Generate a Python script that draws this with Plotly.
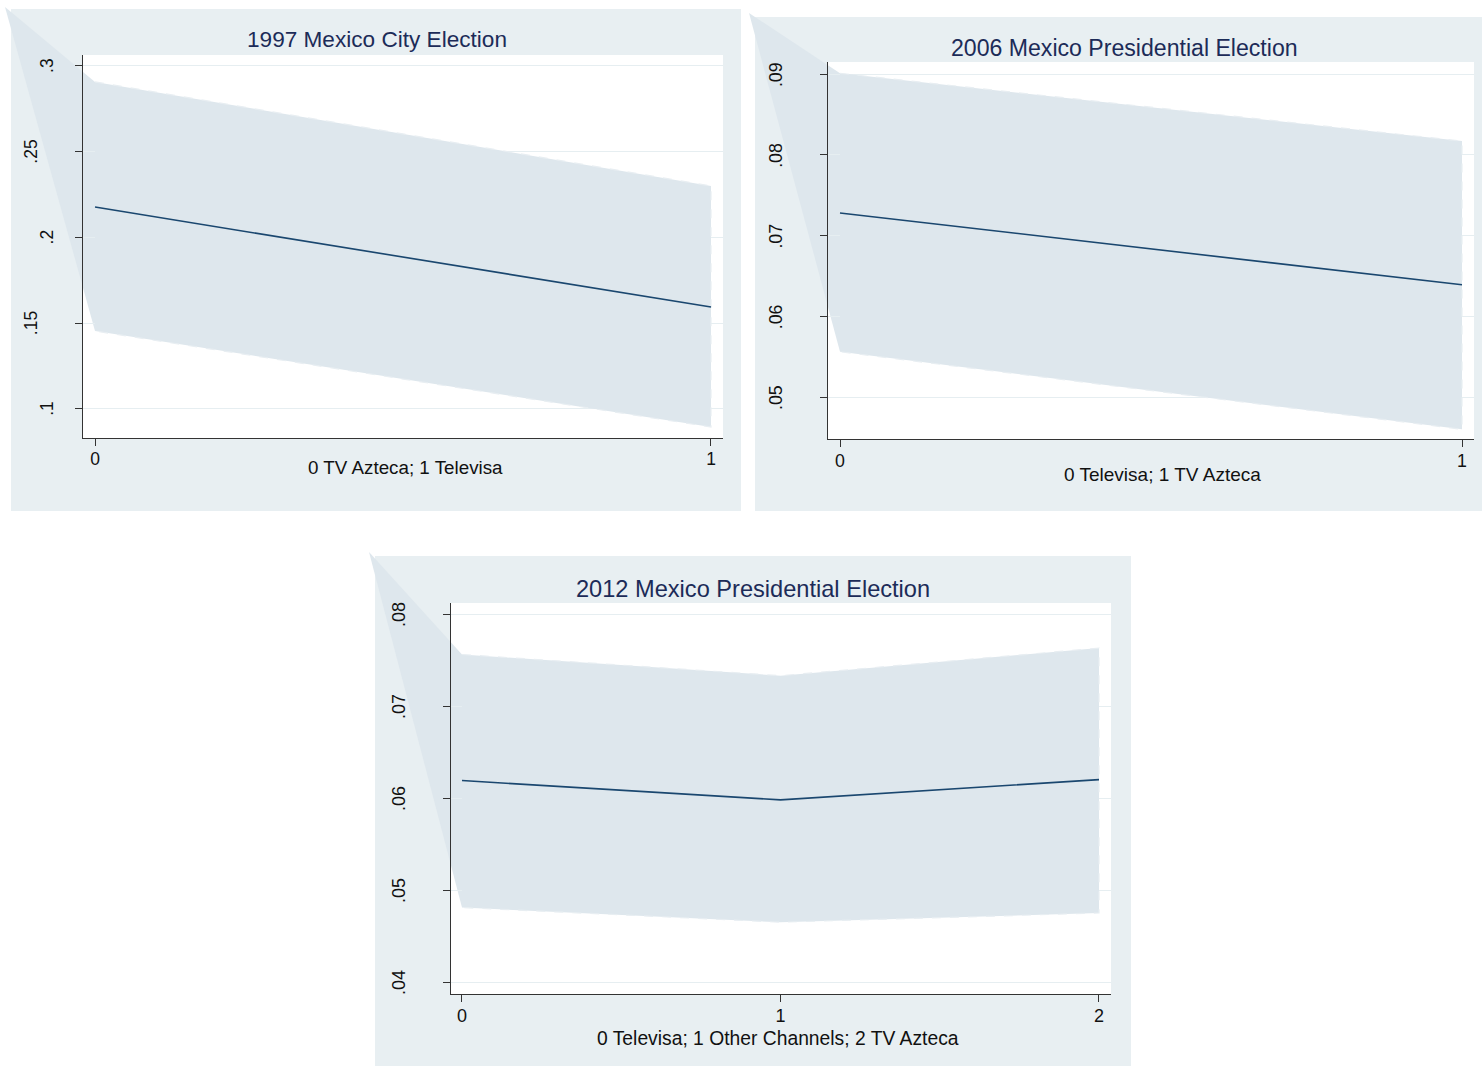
import plotly.graph_objects as go

# ---------------- data ----------------
x_1997 = [0, 1]
fit_1997 = [0.2177, 0.1594]
upper_1997 = [0.2907, 0.2300]
lower_1997 = [0.1454, 0.0894]
yticks_1997 = [0.10, 0.15, 0.20, 0.25, 0.30]
ylabels_1997 = [".1", ".15", ".2", ".25", ".3"]
xlabels_1997 = ["0", "1"]

x_2006 = [0, 1]
fit_2006 = [0.0728, 0.0639]
upper_2006 = [0.0901, 0.0817]
lower_2006 = [0.0556, 0.0460]
yticks_2006 = [0.05, 0.06, 0.07, 0.08, 0.09]
ylabels_2006 = [".05", ".06", ".07", ".08", ".09"]
xlabels_2006 = ["0", "1"]

x_2012 = [0, 1, 2]
fit_2012 = [0.0620, 0.0599, 0.0621]
upper_2012 = [0.0757, 0.0734, 0.0764]
lower_2012 = [0.0482, 0.0466, 0.0476]
yticks_2012 = [0.04, 0.05, 0.06, 0.07, 0.08]
ylabels_2012 = [".04", ".05", ".06", ".07", ".08"]
xlabels_2012 = ["0", "1", "2"]

titles = ["1997 Mexico City Election",
          "2006 Mexico Presidential Election",
          "2012 Mexico Presidential Election"]
xtitles = ["0 TV Azteca; 1 Televisa",
           "0 Televisa; 1 TV Azteca",
           "0 Televisa; 1 Other Channels; 2 TV Azteca"]

# ---------------- page geometry (pixels) ----------------
W, H = 1482, 1066
REGION_BG = "#e8eff2"
BAND = "#dee7ed"
BAND_EDGE = "#e8eef2"
LINE = "#1a476f"
TITLE_C = "#1c2b58"
AXIS_C = "#333333"
GRID_C = "#e6eef1"
FONT = "Liberation Sans, Arial, sans-serif"

panels = [
    dict(x=x_1997, fit=fit_1997, up=upper_1997, lo=lower_1997,
         yt=yticks_1997, yl=ylabels_1997, xl=xlabels_1997,
         region=(11, 9, 741, 511), plot=(83, 55, 723, 438),
         xr=(-0.0195, 1.0195), yr=(0.0830, 0.3064),
         tip=(5, 7), title_xy=(377, 40), xtitle_xy=(406, 468),
         fs_title=22.6, fs_xtitle=18.8, fs_tick=17.5),
    dict(x=x_2006, fit=fit_2006, up=upper_2006, lo=lower_2006,
         yt=yticks_2006, yl=ylabels_2006, xl=xlabels_2006,
         region=(755, 17, 1482, 511), plot=(828, 62, 1474, 439),
         xr=(-0.0193, 1.0193), yr=(0.0448, 0.0915),
         tip=(749, 13), title_xy=(1124, 48), xtitle_xy=(1162, 474),
         fs_title=23.1, fs_xtitle=19.0, fs_tick=17.8),
    dict(x=x_2012, fit=fit_2012, up=upper_2012, lo=lower_2012,
         yt=yticks_2012, yl=ylabels_2012, xl=xlabels_2012,
         region=(375, 556, 1131, 1066), plot=(451, 603, 1111, 994),
         xr=(-0.0345, 2.0377), yr=(0.0388, 0.0813),
         tip=(369, 552), title_xy=(753, 589), xtitle_xy=(778, 1038),
         fs_title=23.6, fs_xtitle=19.3, fs_tick=18.0),
]


def px(xp):
    return xp / W


def py(yp):
    return 1 - yp / H


def data_to_paper(p, xv, yv):
    x0, y0, x1, y1 = p["plot"]
    fx = (xv - p["xr"][0]) / (p["xr"][1] - p["xr"][0])
    fy = (yv - p["yr"][0]) / (p["yr"][1] - p["yr"][0])
    return px(x0 + fx * (x1 - x0)), py(y1 - fy * (y1 - y0))


fig = go.Figure()
shapes = []
annotations = []

for i, p in enumerate(panels):
    n = "" if i == 0 else str(i + 1)
    xa, ya = "x" + n, "y" + n
    x0, y0, x1, y1 = p["plot"]

    # grey region behind each graph and white plot area
    rx0, ry0, rx1, ry1 = p["region"]
    shapes.append(dict(type="rect", xref="paper", yref="paper", layer="below",
                       x0=px(rx0), x1=px(rx1), y0=py(ry1), y1=py(ry0),
                       fillcolor=REGION_BG, line=dict(width=0)))
    shapes.append(dict(type="rect", xref="paper", yref="paper", layer="below",
                       x0=px(x0), x1=px(x1), y0=py(y1), y1=py(y0),
                       fillcolor="white", line=dict(width=0)))

    # shaded wedge from the region corner to the left edge of the band
    ux, uy = data_to_paper(p, p["x"][0], p["up"][0])
    lx, ly = data_to_paper(p, p["x"][0], p["lo"][0])
    tx, ty = px(p["tip"][0]), py(p["tip"][1])
    shapes.append(dict(type="path", xref="paper", yref="paper", layer="below",
                       path=f"M {tx} {ty} L {ux} {uy} L {lx} {ly} Z",
                       fillcolor=BAND, line=dict(width=0)))

    # confidence band
    fig.add_trace(go.Scatter(
        x=p["x"] + p["x"][::-1], y=p["up"] + p["lo"][::-1],
        fill="toself", fillcolor=BAND, mode="lines",
        line=dict(color=BAND_EDGE, width=1.2, dash="dash"),
        hoverinfo="skip", showlegend=False, xaxis=xa, yaxis=ya))
    # fitted line
    fig.add_trace(go.Scatter(
        x=p["x"], y=p["fit"], mode="lines",
        line=dict(color=LINE, width=1.6),
        showlegend=False, xaxis=xa, yaxis=ya))

    fig.layout["xaxis" + n] = dict(
        domain=[px(x0), px(x1)], anchor=ya, range=list(p["xr"]),
        tickmode="array", tickvals=p["x"], ticktext=p["xl"],
        ticks="outside", ticklen=7, tickcolor=AXIS_C, tickwidth=1,
        ticklabelstandoff=-2,
        showline=True, linecolor=AXIS_C, linewidth=1.3,
        showgrid=False, zeroline=False,
        tickfont=dict(family=FONT, size=p["fs_tick"], color="#111111"))
    fig.layout["yaxis" + n] = dict(
        domain=[py(y1), py(y0)], anchor=xa, range=list(p["yr"]),
        tickmode="array", tickvals=p["yt"], showticklabels=False,
        ticks="outside", ticklen=7, tickcolor=AXIS_C, tickwidth=1,
        showline=True, linecolor=AXIS_C, linewidth=1.3,
        showgrid=True, gridcolor=GRID_C, gridwidth=1, zeroline=False)

    # vertical y tick labels
    for v, lab in zip(p["yt"], p["yl"]):
        off = 36 + 16 * (len(lab) - 2)
        annotations.append(dict(
            x=px(x0 - off), xref="paper", y=v, yref=ya,
            text=lab, textangle=-90, showarrow=False,
            xanchor="center", yanchor="middle",
            font=dict(family=FONT, size=p["fs_tick"], color="#111111")))

    # graph title and x-axis title
    annotations.append(dict(
        x=px(p["title_xy"][0]), y=py(p["title_xy"][1]),
        xref="paper", yref="paper", text=titles[i], showarrow=False,
        xanchor="center", yanchor="middle",
        font=dict(family=FONT, size=p["fs_title"], color=TITLE_C)))
    annotations.append(dict(
        x=px(p["xtitle_xy"][0]), y=py(p["xtitle_xy"][1]),
        xref="paper", yref="paper", text=xtitles[i], showarrow=False,
        xanchor="center", yanchor="middle",
        font=dict(family=FONT, size=p["fs_xtitle"], color="#111111")))

fig.update_layout(
    width=W, height=H, margin=dict(l=0, r=0, t=0, b=0),
    paper_bgcolor="white", plot_bgcolor="rgba(0,0,0,0)",
    shapes=shapes, annotations=annotations, showlegend=False,
    font=dict(family=FONT))

fig.write_html("out.html")
